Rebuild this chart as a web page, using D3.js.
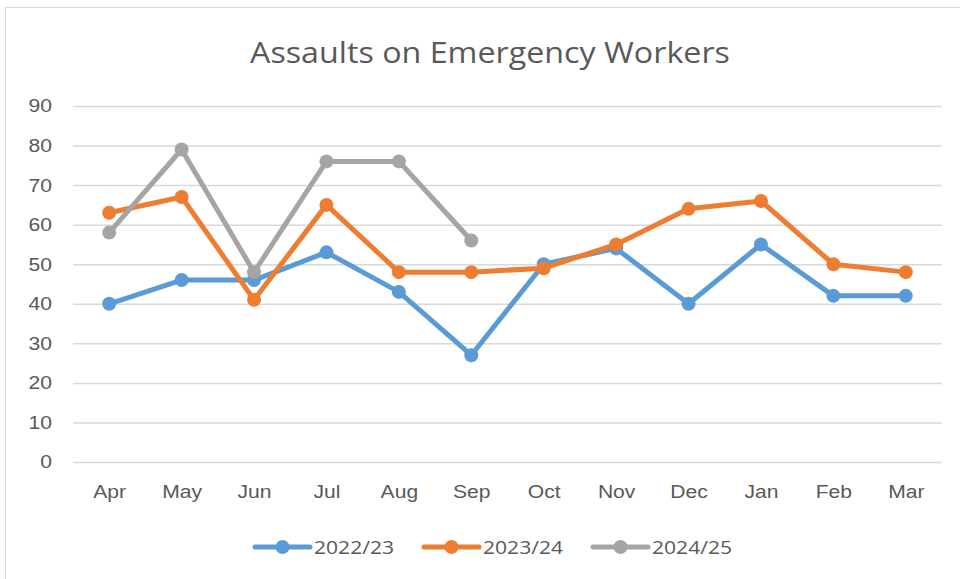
<!DOCTYPE html>
<html>
<head>
<meta charset="utf-8">
<script src="https://cdn.jsdelivr.net/npm/d3@7"></script>
<style>
  body { margin: 0; background: #fff; }
  svg { font-family: "Open Sans", "Noto Sans", sans-serif; }
</style>
</head>
<body>
<svg></svg>
<script>
const months = ["Apr", "May", "Jun", "Jul", "Aug", "Sep", "Oct", "Nov", "Dec", "Jan", "Feb", "Mar"]
const seriesNames = ["2022/23", "2023/24", "2024/25"]
const fy2223 = [40, 46, 46, 53, 43, 27, 50, 54, 40, 55, 42, 42]
const fy2324 = [63, 67, 41, 65, 48, 48, 49, 55, 64, 66, 50, 48]
const fy2425 = [58, 79, 48, 76, 76, 56]
const yTicks = [0, 10, 20, 30, 40, 50, 60, 70, 80, 90]
const colors = ["#5b9bd5", "#ed7d31", "#a5a5a5"]

const width = 960, height = 579
const margin = { top: 106, right: 18, bottom: 117, left: 73 }
const stretch = 1.14  // text in the original is a bit wider

const svg = d3.select('svg')
    .attr("width", width)
    .attr("height", height)

// chart area border
svg.append("rect")
    .attr("x", 5.5).attr("y", 7.5)
    .attr("width", width + 10).attr("height", height + 10)
    .attr("fill", "none")
    .attr("stroke", "#d9d9d9")

const x = d3.scalePoint()
    .domain(months)
    .range([margin.left, width - margin.right])
    .padding(0.5)

const y = d3.scaleLinear()
    .domain([0, 90])
    .range([height - margin.bottom, margin.top])

svg.append("text")
    .attr("transform", "translate(490,63)")
    .attr("text-anchor", "middle")
    .attr("font-size", 29)
    .attr("fill", "#595959")
    .attr("textLength", 480)
    .attr("lengthAdjust", "spacingAndGlyphs")
    .text("Assaults on Emergency Workers")

const yAxis = svg.append("g")
    .attr("transform", `translate(${margin.left},0)`)
    .call(d3.axisLeft(y).tickValues(yTicks).tickSize(-(width - margin.right - margin.left)).tickPadding(0))
yAxis.select(".domain").remove()
yAxis.selectAll(".tick line").attr("stroke", "#d9d9d9").attr("stroke-width", 1.5)
yAxis.selectAll(".tick text")
    .attr("x", null)
    .attr("transform", `translate(-21,0) scale(${stretch},1)`)
    .attr("font-size", 18.5).attr("fill", "#595959").attr("font-family", null)

const xAxis = svg.append("g")
    .attr("transform", `translate(0,${y(0)})`)
    .call(d3.axisBottom(x).tickSize(0).tickPadding(0))
xAxis.select(".domain").remove()
xAxis.selectAll(".tick text")
    .attr("y", null).attr("dy", "0.71em")
    .attr("transform", `translate(0,23) scale(${stretch},1)`)
    .attr("font-size", 18.5).attr("fill", "#595959").attr("font-family", null)

const allSeries = [fy2223, fy2324, fy2425]

const line = d3.line()
    .x((d, i) => x(months[i]))
    .y(d => y(d))

allSeries.forEach((vals, s) => {
    svg.append("path")
        .datum(vals)
        .attr("d", line)
        .attr("fill", "none")
        .attr("stroke", colors[s])
        .attr("stroke-width", 5)
        .attr("stroke-linejoin", "round")
        .attr("stroke-linecap", "round")
    svg.selectAll(".pt" + s)
        .data(vals)
        .join("circle")
        .attr("class", "pt" + s)
        .attr("cx", (d, i) => x(months[i]))
        .attr("cy", d => y(d))
        .attr("r", 7)
        .attr("fill", colors[s])
})

// legend
const legend = svg.append("g").attr("transform", "translate(255,547)")
seriesNames.forEach((name, s) => {
    const g = legend.append("g").attr("transform", `translate(${s * 169},0)`)
    g.append("line")
        .attr("x1", 0).attr("x2", 55)
        .attr("stroke", colors[s]).attr("stroke-width", 5)
        .attr("stroke-linecap", "round")
    g.append("circle").attr("cx", 27.5).attr("r", 7).attr("fill", colors[s])
    g.append("text")
        .attr("transform", `translate(59,7) scale(${stretch},1)`)
        .attr("font-size", 18.5)
        .attr("fill", "#595959")
        .text(name)
})
</script>
</body>
</html>
